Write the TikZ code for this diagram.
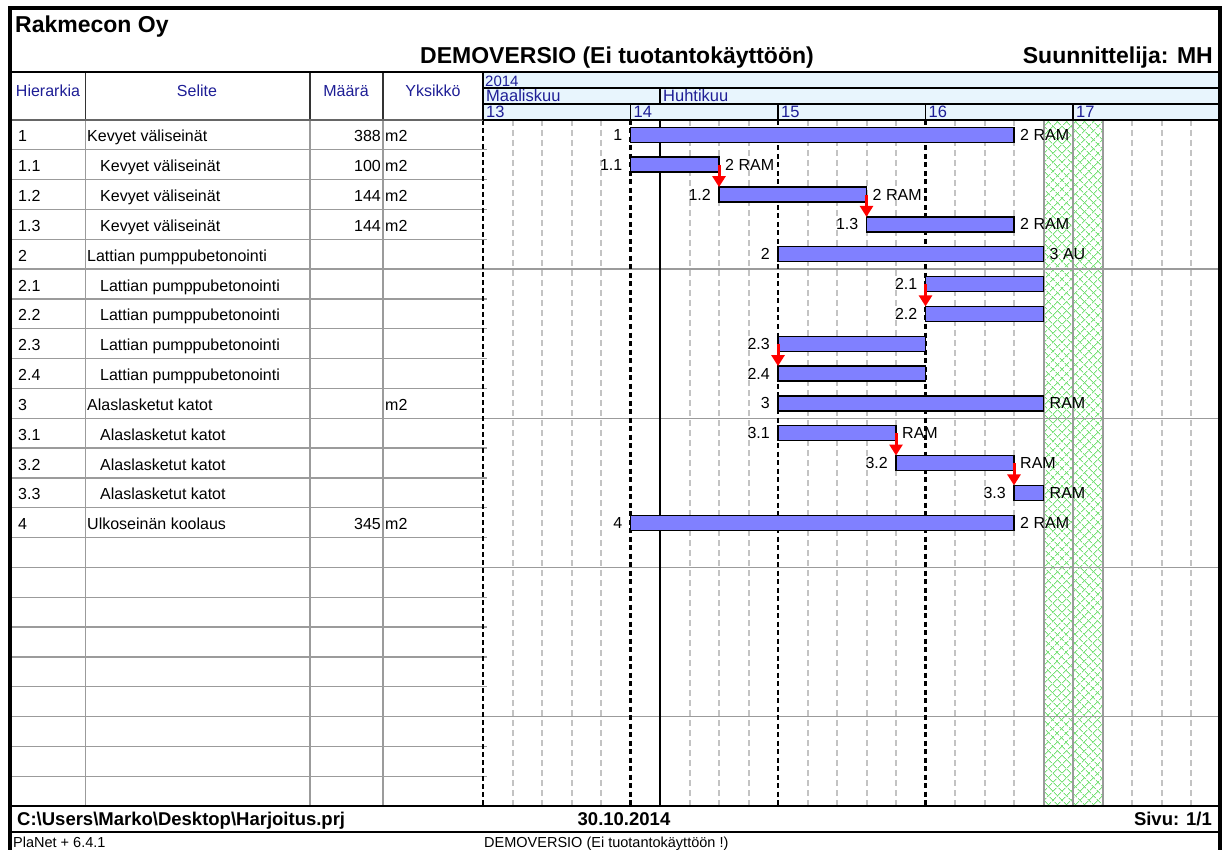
\documentclass[tikz,border=0pt]{standalone}
\usepackage{fontspec}
\setmainfont{Liberation Sans}
\usetikzlibrary{positioning,arrows.meta,patterns.meta}
\definecolor{barblue}{RGB}{128,128,255}
\definecolor{headblue}{RGB}{30,30,150}
\definecolor{headfill}{RGB}{232,245,253}
\definecolor{gridgray}{RGB}{195,195,195}
\definecolor{rulegray}{RGB}{155,155,155}
\definecolor{hatchgreen}{RGB}{120,225,120}

\begin{document}
\begin{tikzpicture}[x=1pt,y=-1pt,
    cell/.style={font=\fontsize{16}{18}\selectfont, anchor=base west, inner sep=0pt},
    num/.style={font=\fontsize{16}{18}\selectfont, anchor=base east, inner sep=0pt},
    hdr/.style={font=\fontsize{16}{18}\selectfont, text=headblue, anchor=base, inner sep=0pt},
    cal/.style={font=\fontsize{16.5}{18}\selectfont, text=headblue, anchor=base west, inner sep=0pt},
    big/.style={font=\fontsize{23}{26}\selectfont\bfseries, inner sep=0pt},
    foot/.style={font=\fontsize{18.5}{21}\selectfont\bfseries, inner sep=0pt},
    small/.style={font=\fontsize{14.5}{16}\selectfont, anchor=base west, inner sep=0pt},
    bar/.style={draw=black, line width=1.4pt, fill=barblue, minimum height=15pt, inner sep=0pt, outer sep=0pt, anchor=west},
    lbl/.style={font=\fontsize{16}{18}\selectfont, inner sep=1pt},
    dep/.style={red, line width=3pt, -{Triangle[length=11pt,width=13pt]}},
    dayline/.style={gridgray, line width=2pt, dash pattern=on 6pt off 4pt},
    weekline/.style={black, line width=2.5pt, dash pattern=on 5pt off 3.5pt},
    rowline/.style={rulegray, line width=1.3pt},
    hdrline/.style={black!80, line width=1.5pt}]
\useasboundingbox (0,0) rectangle (1226,850);
\fill[white] (0,0) rectangle (1226,850);

% holiday (Easter) hatch
\fill[white] (1043.5,120) rectangle (1102.5,806);
\fill[pattern={Lines[angle=45,distance=6.5pt,line width=1pt]}, pattern color=hatchgreen] (1043.5,120) rectangle (1102.5,806);
\fill[pattern={Lines[angle=-45,distance=6.5pt,line width=1pt]}, pattern color=hatchgreen] (1043.5,120) rectangle (1102.5,806);

% day grid
\foreach \d in {1,2,3,4,7,8,9,11,12,13,14,16,17,18,22,23,24}
    \draw[dayline] ({483+29.5*\d},120) -- ({483+29.5*\d},806);

% row lines
\foreach \k in {1,...,22}
    \draw[rowline] (12,{120+29.83*\k}) -- (487,{120+29.83*\k});
\foreach \k in {5,10,15,20}
    \draw[rowline] (487,{120+29.83*\k}) -- (1218,{120+29.83*\k});

\draw[rulegray, line width=2pt] (1043.5,120) -- (1043.5,806);
\draw[rulegray, line width=2pt] (1073,120) -- (1073,806);
\draw[rulegray, line width=2pt] (1102.5,120) -- (1102.5,806);

\draw[weekline] (630.5,120) -- (630.5,806);
\draw[weekline] (778,120) -- (778,806);
\draw[weekline] (925.5,120) -- (925.5,806);
\draw[black, line width=1.5pt, dash pattern=on 5pt off 3pt] (483,120) -- (483,806);
\draw[black, line width=1.5pt] (660,120) -- (660,806);

% table columns
\draw[rowline] (85.5,120) -- (85.5,806);
\draw[rowline] (310,120) -- (310,806);
\draw[rowline] (383,120) -- (383,806);
\draw[hdrline] (85.5,72) -- (85.5,120);
\draw[hdrline] (310,72) -- (310,120);
\draw[hdrline] (383,72) -- (383,120);
\draw[black!60, line width=2pt] (12,120) -- (483,120);

% calendar header
\fill[headfill] (483,73) rectangle (1218,120);
\draw[rulegray, line width=1pt] (483,73) -- (1218,73);
\draw[black, line width=1.5pt] (483,88) -- (1218,88);
\draw[black, line width=1.5pt] (483,104) -- (1218,104);
\draw[black, line width=2pt] (483,120) -- (1218,120);
\draw[black, line width=1.5pt] (483,72) -- (483,120);
\draw[black, line width=1.5pt] (660,88) -- (660,104);
\draw[black, line width=1.5pt] (630.5,104) -- (630.5,120);
\draw[black, line width=1.5pt] (778,104) -- (778,120);
\draw[black, line width=1.5pt] (925.5,104) -- (925.5,120);
\draw[black, line width=1.5pt] (1073,104) -- (1073,120);
\node[cal, font=\fontsize{15}{16}\selectfont] (year) at (485,87) {2014};
\node[cal] (mar) at (486,101.5) {Maaliskuu};
\node[cal] (apr) at (663,101.5) {Huhtikuu};
\node[cal] (w13) at (486,117.5) {13};
\node[cal] (w14) at (633.5,117.5) {14};
\node[cal] (w15) at (781,117.5) {15};
\node[cal] (w16) at (928.5,117.5) {16};
\node[cal] (w17) at (1076,117.5) {17};

% title
\node[big, anchor=base west] (company) at (15,33) {Rakmecon Oy};
\node[big, anchor=base] (demo) at (617,64) {DEMOVERSIO (Ei tuotantokäyttöön)};
\node[big, anchor=base east] (designer) at (1213,64) {Suunnittelija: MH};

% table header
\node[hdr] (hhier) at (48,97) {Hierarkia};
\node[hdr] (hsel) at (197,97) {Selite};
\node[hdr] (hmaara) at (346,97) {Määrä};
\node[hdr] (hyks) at (433,97) {Yksikkö};

% table rows
\node[cell] (h1) at (18,141.9) {1};
\node[cell] (s1) at (87,141.9) {Kevyet väliseinät};
\node[num] (m1) at (381,141.9) {388};
\node[cell] (u1) at (385,141.9) {m2};
\node[cell] (h11) at (18,171.7) {1.1};
\node[cell] (s11) at (100,171.7) {Kevyet väliseinät};
\node[num] (m11) at (381,171.7) {100};
\node[cell] (u11) at (385,171.7) {m2};
\node[cell] (h12) at (18,201.6) {1.2};
\node[cell] (s12) at (100,201.6) {Kevyet väliseinät};
\node[num] (m12) at (381,201.6) {144};
\node[cell] (u12) at (385,201.6) {m2};
\node[cell] (h13) at (18,231.4) {1.3};
\node[cell] (s13) at (100,231.4) {Kevyet väliseinät};
\node[num] (m13) at (381,231.4) {144};
\node[cell] (u13) at (385,231.4) {m2};
\node[cell] (h2) at (18,261.2) {2};
\node[cell] (s2) at (87,261.2) {Lattian pumppubetonointi};
\node[cell] (h21) at (18,291.1) {2.1};
\node[cell] (s21) at (100,291.1) {Lattian pumppubetonointi};
\node[cell] (h22) at (18,320.9) {2.2};
\node[cell] (s22) at (100,320.9) {Lattian pumppubetonointi};
\node[cell] (h23) at (18,350.7) {2.3};
\node[cell] (s23) at (100,350.7) {Lattian pumppubetonointi};
\node[cell] (h24) at (18,380.6) {2.4};
\node[cell] (s24) at (100,380.6) {Lattian pumppubetonointi};
\node[cell] (h3) at (18,410.4) {3};
\node[cell] (s3) at (87,410.4) {Alaslasketut katot};
\node[cell] (u3) at (385,410.4) {m2};
\node[cell] (h31) at (18,440.2) {3.1};
\node[cell] (s31) at (100,440.2) {Alaslasketut katot};
\node[cell] (h32) at (18,470.0) {3.2};
\node[cell] (s32) at (100,470.0) {Alaslasketut katot};
\node[cell] (h33) at (18,499.9) {3.3};
\node[cell] (s33) at (100,499.9) {Alaslasketut katot};
\node[cell] (h4) at (18,529.7) {4};
\node[cell] (s4) at (87,529.7) {Ulkoseinän koolaus};
\node[num] (m4) at (381,529.7) {345};
\node[cell] (u4) at (385,529.7) {m2};

% bars
\node[bar, minimum width=383.5pt] (b1) at (630.5,134.9) {};
\node[bar, minimum width=88.5pt] (b11) at (630.5,164.7) {};
\node[bar, minimum width=147.5pt] (b12) at (719,194.6) {};
\node[bar, minimum width=147.5pt] (b13) at (866.5,224.4) {};
\node[bar, minimum width=265.5pt] (b2) at (778,254.2) {};
\node[bar, minimum width=118pt] (b21) at (925.5,284.1) {};
\node[bar, minimum width=118pt] (b22) at (925.5,313.9) {};
\node[bar, minimum width=147.5pt] (b23) at (778,343.7) {};
\node[bar, minimum width=147.5pt] (b24) at (778,373.6) {};
\node[bar, minimum width=265.5pt] (b3) at (778,403.4) {};
\node[bar, minimum width=118pt] (b31) at (778,433.2) {};
\node[bar, minimum width=118pt] (b32) at (896,463.0) {};
\node[bar, minimum width=29.5pt] (b33) at (1014,492.9) {};
\node[bar, minimum width=383.5pt] (b4) at (630.5,522.7) {};

% bar labels
\node[lbl, left=7pt of b1] (l1) {1};
\node[lbl, right=5pt of b1] (r1) {2 RAM};
\node[lbl, left=7pt of b11] (l11) {1.1};
\node[lbl, right=5pt of b11] (r11) {2 RAM};
\node[lbl, left=7pt of b12] (l12) {1.2};
\node[lbl, right=5pt of b12] (r12) {2 RAM};
\node[lbl, left=7pt of b13] (l13) {1.3};
\node[lbl, right=5pt of b13] (r13) {2 RAM};
\node[lbl, left=7pt of b2] (l2) {2};
\node[lbl, right=5pt of b2] (r2) {3 AU};
\node[lbl, left=7pt of b21] (l21) {2.1};
\node[lbl, left=7pt of b22] (l22) {2.2};
\node[lbl, left=7pt of b23] (l23) {2.3};
\node[lbl, left=7pt of b24] (l24) {2.4};
\node[lbl, left=7pt of b3] (l3) {3};
\node[lbl, right=5pt of b3] (r3) {RAM};
\node[lbl, left=7pt of b31] (l31) {3.1};
\node[lbl, right=5pt of b31] (r31) {RAM};
\node[lbl, left=7pt of b32] (l32) {3.2};
\node[lbl, right=5pt of b32] (r32) {RAM};
\node[lbl, left=7pt of b33] (l33) {3.3};
\node[lbl, right=5pt of b33] (r33) {RAM};
\node[lbl, left=7pt of b4] (l4) {4};
\node[lbl, right=5pt of b4] (r4) {2 RAM};

% dependencies
\draw[dep] (b11.east) -- (b12.north west);
\draw[dep] (b12.east) -- (b13.north west);
\draw[dep] (b21.west) -- (b22.north west);
\draw[dep] (b23.west) -- (b24.north west);
\draw[dep] (b31.east) -- (b32.north west);
\draw[dep] (b32.east) -- (b33.north west);

% footer
\draw[black, line width=2.5pt] (11,806) -- (1218,806);
\draw[black, line width=1.2pt] (11,832) -- (1218,832);
\node[foot, anchor=base west] (path) at (17,825) {C:\textbackslash Users\textbackslash Marko\textbackslash Desktop\textbackslash Harjoitus.prj};
\node[foot, anchor=base] (date) at (624,825) {30.10.2014};
\node[foot, anchor=base east] (page) at (1212,825) {Sivu: 1/1};
\node[small] (version) at (13,847) {PlaNet + 6.4.1};
\node[small] (demonote) at (484,847) {DEMOVERSIO (Ei tuotantokäyttöön !)};

% frame
\draw[black, line width=2pt] (11,72) -- (1218,72);
\draw[black, line width=4pt] (9.5,860) -- (9.5,8.5) -- (1220,8.5) -- (1220,860);
\end{tikzpicture}
\end{document}
